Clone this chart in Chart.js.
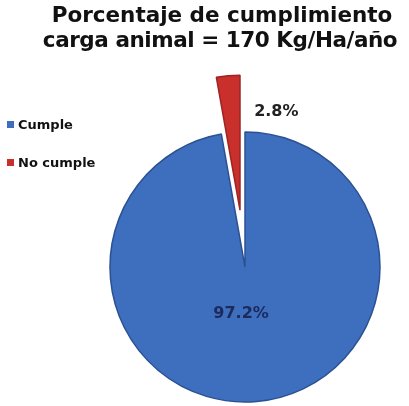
<!DOCTYPE html>
<html>
<head>
<meta charset="utf-8">
<script src="https://cdn.jsdelivr.net/npm/chart.js@4/dist/chart.umd.min.js"></script>
<style>
  body { margin: 0; background: #fff; }
  #wrap { position: relative; width: 409px; height: 406px; }
  #title { position: absolute; left: 35px; right: 0; top: 2px; text-align: center; font: bold 21.5px/25px "DejaVu Sans", sans-serif; color: #111; }
  #title div + div { letter-spacing: -0.45px; margin-right: 4px; }
  #legend { position: absolute; left: 7px; top: 116px; font: bold 13px "DejaVu Sans", sans-serif; color: #111; }
  #legend div { display: flex; align-items: center; height: 16px; margin-bottom: 22px; }
  #legend span.box { display: inline-block; width: 7px; height: 7px; margin-right: 4px; }
</style>
</head>
<body>
<div id="wrap">
  <canvas id="pie"></canvas>
  <div id="title"></div>
  <div id="legend"></div>
</div>
<script>
var titleLines = ['Porcentaje de cumplimiento', 'carga animal = 170 Kg/Ha/año']
var categories = ['Cumple', 'No cumple']
var percents = [97.2, 2.8]
var colors = ['#3d6fbe', '#c9302c']
var edgeColors = ['#2c5193', '#9c2422']

// how far each slice is pulled out of the pie, in px
var pullOut = [0, 57]

// where each percentage is written: fraction of the radius along the slice, then a sideways nudge
var labelPlace = [
    { dist: 0.346, dx: -8, color: '#1c2a5c' },
    { dist: 0.73, dx: 45, color: '#222' }
]

// move a slice bodily along its middle angle (the built-in offset also grows the radius)
var explode = {
    id: 'explode',
    afterDatasetUpdate: function (chart, args) {
        chart.getDatasetMeta(args.index).data.forEach(function (arc, i) {
            var mid = (arc.startAngle + arc.endAngle) / 2
            arc.x += Math.cos(mid) * pullOut[i]
            arc.y += Math.sin(mid) * pullOut[i]
        })
    }
}

var sliceLabels = {
    id: 'sliceLabels',
    afterDatasetsDraw: function (chart) {
        var ctx = chart.ctx
        var meta = chart.getDatasetMeta(0)
        ctx.save()
        ctx.font = 'bold 16px "DejaVu Sans", sans-serif'
        ctx.textAlign = 'center'
        ctx.textBaseline = 'middle'
        meta.data.forEach(function (arc, i) {
            var p = arc.getProps(['x', 'y', 'startAngle', 'endAngle', 'outerRadius'], true)
            var mid = (p.startAngle + p.endAngle) / 2
            var d = p.outerRadius * labelPlace[i].dist
            ctx.fillStyle = labelPlace[i].color
            ctx.fillText(percents[i].toFixed(1) + '%', p.x + Math.cos(mid) * d + labelPlace[i].dx, p.y + Math.sin(mid) * d)
        })
        ctx.restore()
    }
}

var ctx = document.getElementById('pie').getContext('2d');
var pie = new Chart(ctx, {
    type: 'pie',
    data: {
        labels: categories,
        datasets: [{
            data: percents,
            backgroundColor: colors,
            borderColor: edgeColors,
            borderWidth: 1.5,
            radius: 135,
            clip: false
        }]
    },
    options: {
        responsive: true,
        maintainAspectRatio: false,
        animation: false,
        layout: {
            padding: { left: 81, right: 0, top: 128, bottom: 0 }
        },
        plugins: {
            legend: { display: false },
            tooltip: { enabled: false }
        }
    },
    plugins: [explode, sliceLabels]
});

titleLines.forEach(function (line) {
    var el = document.createElement('div')
    el.textContent = line
    document.getElementById('title').append(el)
})

// legend drawn as html next to the canvas
var legendBox = document.getElementById('legend')
pie.options.plugins.legend.labels.generateLabels(pie).forEach(function (item) {
    var row = document.createElement('div')
    var sw = document.createElement('span')
    sw.className = 'box'
    sw.style.background = item.fillStyle
    row.append(sw)
    row.append(item.text)
    legendBox.append(row)
})
</script>
</body>
</html>
